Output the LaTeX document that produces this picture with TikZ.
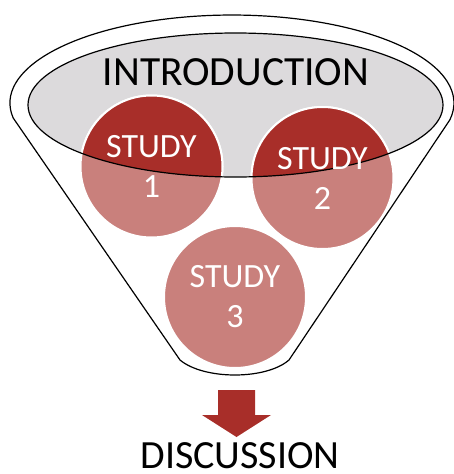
\documentclass[tikz,border=0pt]{standalone}
\usepackage{fontspec}
\setmainfont{Carlito}
\definecolor{studyred}{HTML}{A82E29}
\definecolor{studypale}{HTML}{C9807C}
\definecolor{introgray}{HTML}{DCDADC}

\begin{document}
\begin{tikzpicture}[x=1pt, y=-1pt,
    every node/.style={inner sep=0pt},
    funnel/.style={draw=black, line width=1.2pt, fill=white},
    studypalecirc/.style={circle, minimum size=142pt, fill=studypale, draw=white, line width=2pt},
    studydarkcirc/.style={circle, minimum size=142pt, fill=studyred, draw=white, line width=2pt},
    studytext/.style={align=center, text=white, font=\fontsize{34}{40}\selectfont},
    bigtext/.style={anchor=base, font=\fontsize{41.5}{46}\selectfont}]
    \useasboundingbox (0,0) rectangle (454,474);

% funnel outline
    \coordinate (FL) at (13.2,118);
    \coordinate (FR) at (289,360);
    \coordinate (FB) at (180,360);
    \draw[funnel] (FL) arc[start angle=170.2, end angle=371, x radius=222, y radius=88]
        -- (FR) .. controls (266,380) and (204,380) .. (FB) -- cycle;

% introduction ellipse
    \fill[introgray] (235.5,105) ellipse [x radius=207.5, y radius=72];

% pale circles
    \node[studypalecirc] (c1) at (151.5,166.5) {};
    \node[studypalecirc] (c2) at (322.5,178) {};
    \node[studypalecirc] (c3) at (235,297) {};

% dark part inside the ellipse
    \begin{scope}
        \clip (235.5,105) ellipse [x radius=207.5, y radius=72];
        \node[studydarkcirc] (d1) at (c1) {};
        \node[studydarkcirc] (d2) at (c2) {};
    \end{scope}
    \draw[line width=1.2pt] (235.5,105) ellipse [x radius=207.5, y radius=72];

% labels
    \node[bigtext] (intro) at (236,85) {INTRODUCTION};
    \node[studytext] (t1) at (c1) {STUDY\\1};
    \node[studytext] (t2) at (c2) {STUDY\\2};
    \node[studytext] (t3) at (c3) {STUDY\\3};

% arrow down to the discussion
    \fill[studyred] (218,390) -- (255,390) -- (255,415) -- (271,415) -- (236.5,437)
        -- (202,415) -- (218,415) -- cycle;
    \node[bigtext, font=\fontsize{40}{46}\selectfont] (disc) at (240,468) {DISCUSSION};
\end{tikzpicture}
\end{document}
